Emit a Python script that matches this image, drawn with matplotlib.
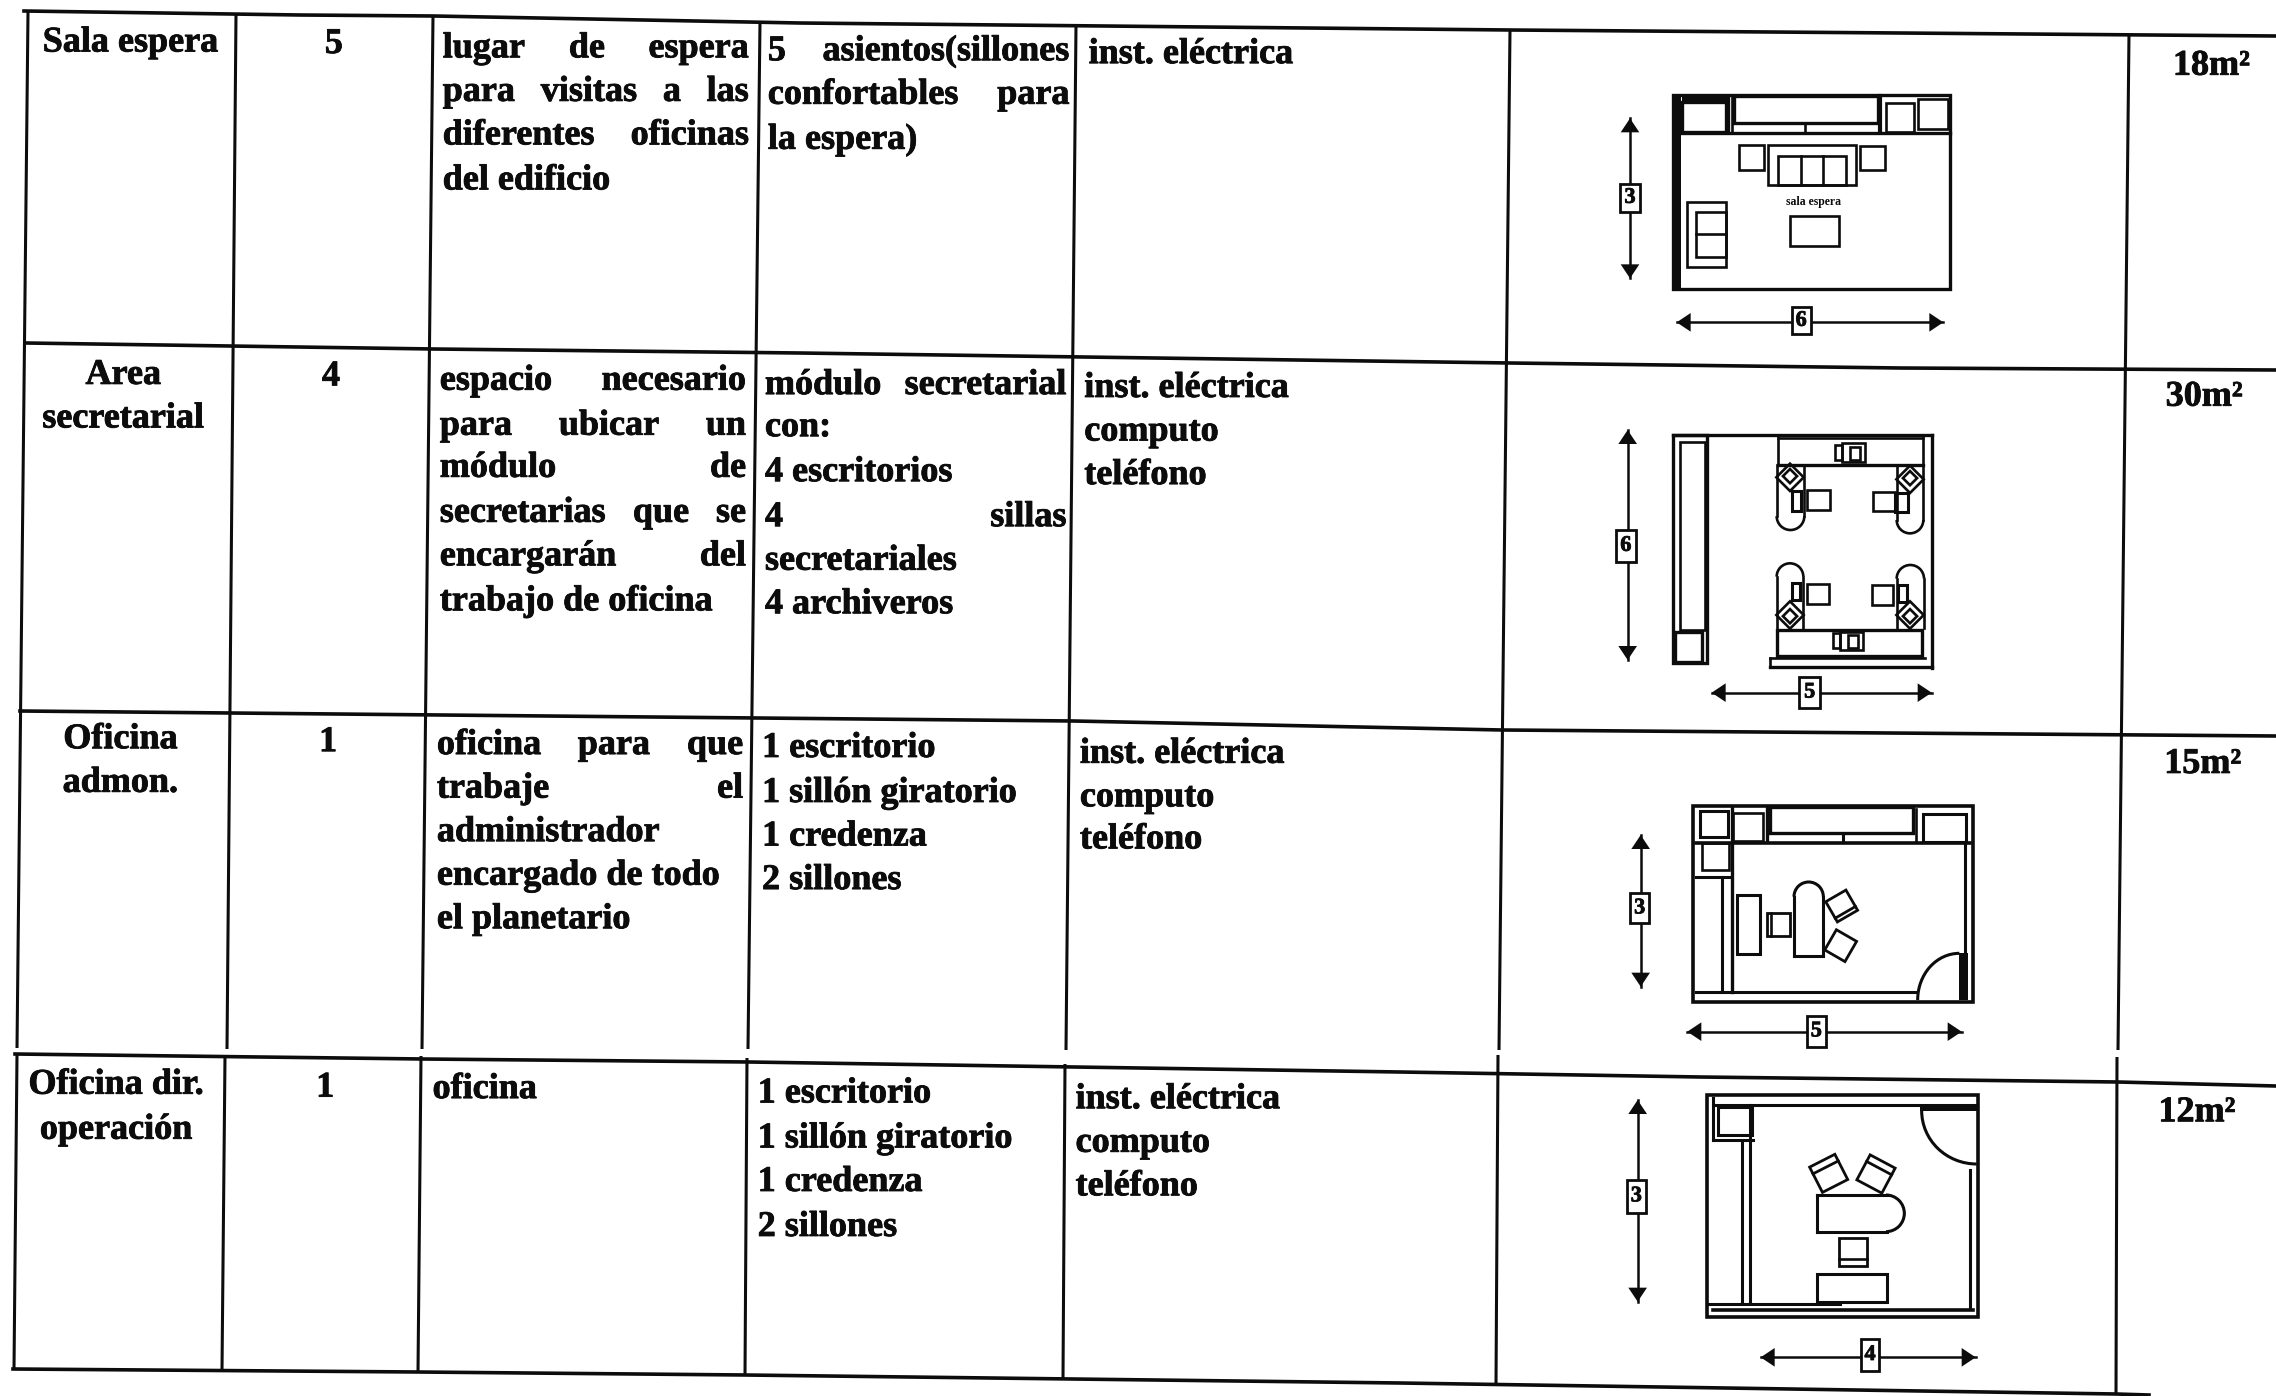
import matplotlib
matplotlib.use('Agg')
import matplotlib.pyplot as plt
import matplotlib.patheffects as pe
from matplotlib.patches import Rectangle, Polygon, Arc
import matplotlib.transforms as mtrans

plt.rcParams['font.family'] = ['Liberation Serif', 'DejaVu Serif']

# table contents
room_names = [['Sala espera'], ['Area', 'secretarial'], ['Oficina', 'admon.'], ['Oficina dir.', 'operación']]
quantities = ['5', '4', '1', '1']
activities = [
    ['lugar de espera', 'para visitas a las', 'diferentes oficinas', 'del edificio'],
    ['espacio necesario', 'para ubicar un', 'módulo de', 'secretarias que se', 'encargarán del', 'trabajo de oficina'],
    ['oficina para que', 'trabaje el', 'administrador', 'encargado de todo', 'el planetario'],
    ['oficina'],
]
furniture = [
    ['5 asientos(sillones', 'confortables para', 'la espera)'],
    ['módulo secretarial', 'con:', '4 escritorios', '4 sillas', 'secretariales', '4 archiveros'],
    ['1 escritorio', '1 sillón giratorio', '1 credenza', '2 sillones'],
    ['1 escritorio', '1 sillón giratorio', '1 credenza', '2 sillones'],
]
services = [
    ['inst. eléctrica'],
    ['inst. eléctrica', 'computo', 'teléfono'],
    ['inst. eléctrica', 'computo', 'teléfono'],
    ['inst. eléctrica', 'computo', 'teléfono'],
]
areas = ['18m²', '30m²', '15m²', '12m²']
plan_heights = ['3', '6', '3', '3']
plan_widths = ['6', '5', '5', '4']

# which lines are justified to the column width
act_just = [[1, 1, 1, 0], [1, 1, 1, 1, 1, 0], [1, 1, 0, 0, 0], [0]]
fur_just = [[1, 1, 0], [1, 0, 0, 1, 0, 0], [0, 0, 0, 0], [0, 0, 0, 0]]

# text layout, measured on the 1568 wide view
S = 2276 / 1568
name_x = [90, 85, 83, 80]
name_y = [[27], [256, 286], [507, 537], [745, 776]]
qty_x = [230, 228, 226, 224]
qty_y = [28, 257, 509, 747]
act_x = [(305, 516), (303, 514), (301, 512), (298, 510)]
act_y = [[31, 61, 91, 122], [260, 291, 320, 351, 381, 412], [511, 541, 571, 601, 631], [748]]
fur_x = [(529, 737), (527, 735), (525, 735), (522, 733)]
fur_y = [[33, 63, 94], [263, 292, 323, 354, 384, 414], [513, 544, 574, 604], [751, 782, 812, 843]]
srv_x = [750, 747, 744, 741]
srv_y = [[35], [265, 295, 325], [517, 547, 576], [755, 785, 815]]
area_x = [1497, 1492, 1491, 1487]
area_y = [43, 271, 524, 764]

# grid lines, full size pixels. verticals break just above the fourth row line
v_upper = [((28, 12), (17, 1048)), ((236, 14), (227, 1049)), ((433, 16), (422, 1049)),
           ((760, 22), (748, 1049)), ((1076, 26), (1066, 1050)), ((1510, 30), (1499, 1050)),
           ((2129, 34), (2118, 1050))]
v_lower = [((17, 1054), (14, 1369)), ((225, 1056), (222, 1370)), ((421, 1056), (418, 1372)),
           ((747, 1058), (745, 1375)), ((1065, 1064), (1063, 1378)), ((1498, 1055), (1496, 1385)),
           ((2117, 1057), (2116, 1395))]
h_lines = [
    [(24, 11), (300, 15), (434, 16), (800, 23), (1510, 30), (1900, 33), (2276, 36)],
    [(26, 343), (434, 349), (800, 353), (1510, 363), (1900, 368), (2276, 370)],
    [(20, 711), (1074, 721), (1502, 730), (2276, 736)],
    [(15, 1054), (423, 1059), (749, 1062), (1400, 1072), (1700, 1077), (2118, 1082), (2276, 1086)],
    [(13, 1369), (418, 1372), (745, 1375), (1400, 1383), (2116, 1394), (2149, 1395)],
]

INK = '#0c0c0c'
FS = 26
HEAVY = [pe.withStroke(linewidth=0.6, foreground=INK)]

fig = plt.figure(figsize=(22.76, 13.96), dpi=100)
ax = fig.add_axes([0, 0, 1, 1])
ax.set_xlim(0, 2276)
ax.set_ylim(1396, 0)
ax.axis('off')
renderer = fig.canvas.get_renderer()


def put(x, y, s, ha='left', fs=FS):
    return ax.text(x * S, (y + 8.5) * S, s, ha=ha, va='baseline', fontsize=fs,
                   fontweight='bold', color=INK, path_effects=HEAVY)


def put_line(x0, x1, y, s, just):
    if not just:
        put(x0, y, s)
        return
    words = [put(x0, y, w) for w in s.split()]
    widths = [w.get_window_extent(renderer).width for w in words]
    gap = ((x1 - x0) * S - sum(widths)) / (len(words) - 1)
    pos = x0 * S
    for w, wd in zip(words, widths):
        w.set_x(pos)
        pos += wd + gap


# grid
for a, b in v_upper + v_lower:
    ax.plot([a[0], b[0]], [a[1], b[1]], color=INK, lw=2.2, solid_capstyle='butt')
for pts in h_lines:
    ax.plot([p[0] for p in pts], [p[1] for p in pts], color=INK, lw=2.6)

# text cells
for r in range(4):
    for s, y in zip(room_names[r], name_y[r]):
        put(name_x[r], y, s, ha='center')
    put(qty_x[r], qty_y[r], quantities[r], ha='center')
    for s, y, j in zip(activities[r], act_y[r], act_just[r]):
        put_line(act_x[r][0], act_x[r][1], y, s, j)
    for s, y, j in zip(furniture[r], fur_y[r], fur_just[r]):
        put_line(fur_x[r][0], fur_x[r][1], y, s, j)
    for s, y in zip(services[r], srv_y[r]):
        put(srv_x[r], y, s)
    put(area_x[r], area_y[r], areas[r])


# floor plans, drawn in the pixels of a 3x crop placed at (ox, oy)
class Plan:
    def __init__(self, ox, oy):
        self.ox, self.oy = ox, oy

    def p(self, x, y):
        return self.ox + x / 3, self.oy + y / 3

    def box(self, x0, y0, x1, y1, lw=1.9):
        a = self.p(x0, y0)
        ax.add_patch(Rectangle(a, (x1 - x0) / 3, (y1 - y0) / 3, fill=False, ec=INK, lw=lw, zorder=3))

    def fill(self, x0, y0, x1, y1):
        a = self.p(x0, y0)
        ax.add_patch(Rectangle(a, (x1 - x0) / 3, (y1 - y0) / 3, fc=INK, ec='none', zorder=3))

    def line(self, x0, y0, x1, y1, lw=1.9):
        a, b = self.p(x0, y0), self.p(x1, y1)
        ax.plot([a[0], b[0]], [a[1], b[1]], color=INK, lw=lw, zorder=3)

    def rot(self, cx, cy, w, h, ang, lw=1.9, band=None):
        c = self.p(cx, cy)
        tr = mtrans.Affine2D().rotate_deg(ang).translate(*c) + ax.transData
        ax.add_patch(Rectangle((-w / 6, -h / 6), w / 3, h / 3, fill=False, ec=INK, lw=lw, transform=tr, zorder=3))
        if band is not None:
            ax.plot([-w / 6, w / 6], [band / 3, band / 3], color=INK, lw=lw, transform=tr, zorder=3)

    def arc(self, cx, cy, w, h, t0, t1, lw=1.9):
        ax.add_patch(Arc(self.p(cx, cy), w / 3, h / 3, theta1=t0, theta2=t1, ec=INK, lw=lw, zorder=3))

    def arrow_h(self, x0, x1, y, bx0, bx1, by0, by1, s):
        self.line(x0, y, x1, y, 1.8)
        for tip, back in ((x0, x0 + 42), (x1, x1 - 42)):
            ax.add_patch(Polygon([self.p(tip, y), self.p(back, y - 28), self.p(back, y + 28)], fc=INK, ec='none', zorder=3))
        self.label(bx0, bx1, by0, by1, s)

    def arrow_v(self, x, y0, y1, bx0, bx1, by0, by1, s):
        self.line(x, y0, x, y1, 1.8)
        for tip, back in ((y0, y0 + 42), (y1, y1 - 42)):
            ax.add_patch(Polygon([self.p(x, tip), self.p(x - 28, back), self.p(x + 28, back)], fc=INK, ec='none', zorder=3))
        self.label(bx0, bx1, by0, by1, s)

    def label(self, x0, x1, y0, y1, s):
        a = self.p(x0, y0)
        ax.add_patch(Rectangle(a, (x1 - x0) / 3, (y1 - y0) / 3, fc='white', ec=INK, lw=2, zorder=4))
        c = self.p((x0 + x1) / 2, (y0 + y1) / 2)
        ax.text(c[0], c[1], s, ha='center', va='center', fontsize=16, fontweight='bold', color=INK, zorder=5,
                path_effects=HEAVY)


# plan 1, sala espera
a = Plan(1560, 60)
a.box(340, 105, 1170, 688, 2.4)
a.fill(345, 105, 362, 685)
a.line(345, 218, 1170, 218, 2.4)
a.box(365, 125, 497, 215, 2.4)
a.fill(365, 108, 500, 125)
a.line(505, 108, 505, 215, 2.4)
a.line(515, 108, 515, 215)
a.box(522, 108, 955, 188, 2.4)
a.line(735, 195, 735, 215)
a.line(960, 108, 960, 215, 3)
a.box(978, 130, 1062, 215)
a.box(1075, 118, 1165, 207)
a.box(537, 255, 612, 330)
a.box(625, 255, 888, 375)
a.box(655, 287, 858, 375)
a.line(722, 287, 722, 375)
a.line(790, 287, 790, 375)
a.box(900, 257, 975, 330)
a.box(690, 467, 838, 557)
a.box(380, 425, 497, 620)
a.box(408, 455, 497, 590)
a.line(408, 522, 497, 522)
c = a.p(760, 427)
ax.text(c[0], c[1], 'sala espera', ha='center', va='center', fontsize=8.5, fontweight='bold', color=INK, zorder=3)
a.arrow_v(210, 175, 655, 180, 240, 372, 455, plan_heights[0])
a.arrow_h(350, 1150, 787, 695, 752, 742, 823, plan_widths[0])

# plan 2, area secretarial
b = Plan(1560, 400)
b.line(340, 105, 1115, 105, 2.4)
b.line(1115, 105, 1115, 805, 2.4)
b.line(630, 800, 1115, 800, 2.4)
b.line(630, 775, 1095, 775)
b.line(630, 775, 630, 800)
b.box(338, 105, 440, 790, 2.4)
b.box(360, 125, 435, 690)
b.box(345, 695, 425, 785, 2.4)
b.line(655, 115, 655, 195)
b.line(655, 115, 1090, 115)
b.line(1090, 115, 1090, 195)
b.line(655, 195, 1090, 195, 2.4)
b.box(650, 690, 1087, 768, 2.4)
for cx, cy in ((870, 160), (865, 725)):
    b.box(cx - 45, cy - 25, cx - 25, cy + 20)
    b.box(cx - 25, cy - 30, cx + 45, cy + 25)
    b.box(cx, cy - 20, cx + 30, cy + 20)
for x0, x1, y0, y1, up in ((650, 733, 195, 390, False), (1010, 1090, 195, 400, False),
                           (650, 730, 490, 685, True), (1010, 1092, 495, 685, True)):
    r = (x1 - x0) / 2
    cx = (x0 + x1) / 2
    if up:
        b.arc(cx, y0 + r, 2 * r, 2 * r, 180, 360)
        b.line(x0, y0 + r, x0, y1)
        b.line(x1, y0 + r, x1, y1)
    else:
        b.arc(cx, y1 - r, 2 * r, 2 * r, 0, 180)
        b.line(x0, y0, x0, y1 - r)
        b.line(x1, y0, x1, y1 - r)
for cx, cy, ang, band in ((690, 232, 45, 12), (1050, 238, -45, 12), (690, 645, -45, -12), (1050, 645, 45, -12)):
    b.rot(cx, cy, 58, 58, ang, 1.9)
    b.rot(cx, cy - band * 0.3, 30, 30, ang, 1.9)
for x0, y0, x1, y1 in ((742, 270, 810, 330), (938, 275, 1005, 333), (740, 552, 807, 612), (935, 555, 998, 615)):
    b.box(x0, y0, x1, y1)
for x0, y0, x1, y1 in ((697, 272, 722, 332), (1005, 280, 1045, 335), (695, 550, 720, 600), (1015, 555, 1040, 605)):
    b.box(x0, y0, x1, y1, 2.2)
b.arrow_v(203, 90, 780, 167, 228, 390, 485, plan_heights[1])
b.arrow_h(455, 1115, 878, 718, 780, 830, 925, plan_widths[1])

# plan 3, oficina admon.
d = Plan(1590, 780)
d.box(310, 78, 1148, 665, 2.6)
d.line(318, 188, 1140, 188, 2.6)
d.box(330, 92, 415, 170, 2.2)
d.line(425, 85, 425, 635, 2.4)
d.box(430, 100, 518, 182, 1.9)
d.line(530, 85, 530, 182, 2.4)
d.box(540, 82, 970, 160, 2.4)
d.line(758, 165, 758, 185, 2.2)
d.line(978, 88, 978, 185)
d.box(1000, 102, 1128, 185, 2.2)
d.box(335, 188, 418, 270, 1.9)
d.line(318, 290, 418, 290, 2.2)
d.line(395, 290, 395, 635, 2.2)
d.line(318, 635, 975, 635, 2.2)
d.line(1125, 188, 1125, 520, 2.2)
d.fill(1108, 520, 1135, 660)
d.arc(1108, 660, 250, 280, 180, 270, 2.2)
d.box(442, 345, 510, 523, 2.2)
d.box(530, 400, 600, 467, 2)
d.line(542, 400, 542, 467)
d.line(612, 350, 612, 527, 2.2)
d.line(700, 350, 700, 527, 2.2)
d.line(612, 527, 700, 527, 2.2)
d.arc(656, 350, 88, 88, 180, 360, 2.2)
d.rot(755, 378, 70, 70, -30, 2, 22)
d.rot(752, 497, 70, 70, 30, 2, None)
d.arrow_v(152, 165, 620, 120, 178, 340, 430, plan_heights[2])
d.arrow_h(292, 1115, 755, 650, 708, 708, 800, plan_widths[2])

# plan 4, oficina dir. operacion
e = Plan(1590, 1080)
e.box(352, 45, 1165, 712, 2.6)
e.line(370, 75, 1160, 75, 2.2)
e.line(370, 55, 370, 180, 2.2)
e.box(385, 80, 485, 165, 2.2)
e.line(370, 180, 490, 180, 2.2)
e.line(455, 190, 455, 670, 2.2)
e.line(480, 75, 480, 670, 2.2)
e.line(352, 672, 750, 672, 2.2)
e.line(370, 690, 1150, 690, 2.6)
e.fill(990, 80, 1160, 92)
e.line(1140, 270, 1140, 680, 2.2)
e.arc(1160, 92, 330, 320, 90, 180, 2.2)
e.rot(716, 280, 85, 85, -27, 2, -20)
e.rot(858, 282, 85, 85, 28, 2, -20)
e.line(680, 345, 895, 345, 2.2)
e.line(680, 345, 680, 455, 2.2)
e.line(680, 455, 890, 455, 2.2)
e.arc(888, 400, 110, 110, -90, 90, 2.2)
e.box(748, 473, 830, 558, 2)
e.line(748, 537, 830, 537)
e.box(680, 582, 892, 667, 2.2)
e.arrow_v(143, 60, 665, 111, 167, 300, 398, plan_heights[3])
e.arrow_h(512, 1157, 832, 812, 868, 778, 872, plan_widths[3])

plt.savefig('out.png', dpi=100)
print('Saved: out.png')
